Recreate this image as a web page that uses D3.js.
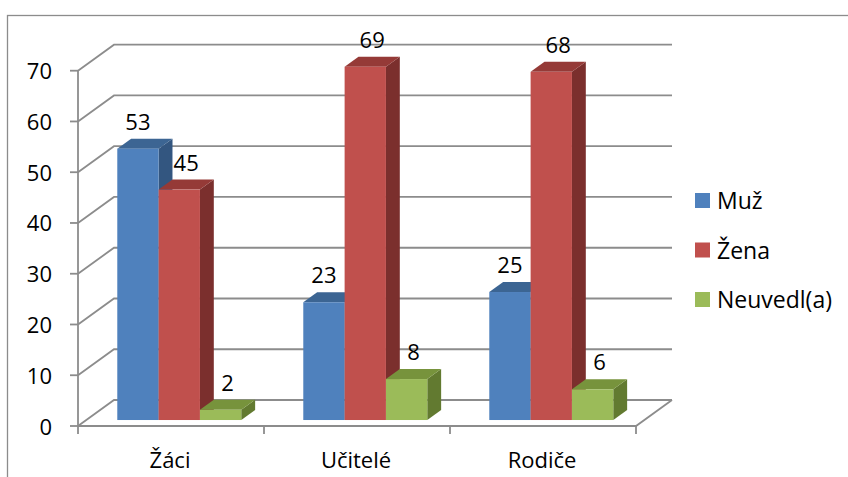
<!DOCTYPE html>
<html>
<head>
<meta charset="utf-8">
<script src="https://cdn.jsdelivr.net/npm/d3@7"></script>
<style>
  body { margin: 0; background: #fff; }
  svg { display: block; font-family: "Open Sans", sans-serif; }
</style>
</head>
<body>
<script>
var categories = ["Žáci", "Učitelé", "Rodiče"];
var seriesNames = ["Muž", "Žena", "Neuvedl(a)"];
var muz = [53, 23, 25];
var zena = [45, 69, 68];
var neuvedl = [2, 8, 6];
var yTicks = [0, 10, 20, 30, 40, 50, 60, 70];

var values = [muz, zena, neuvedl];
var colors = [
  {front: "#4f81bd", top: "#3c6593", side: "#335680"},
  {front: "#c0504d", top: "#953a37", side: "#7b2f2d"},
  {front: "#9bbb59", top: "#77933c", side: "#627a30"}
];

var w = 848, h = 477;
var left = 78, right = 636;
var DX = 36, DY = -26;      // depth of floor
var z0 = 0.23, z1 = 0.615;   // bar depth span
var grid = "#8c8c8c";

var svg = d3.select('body')
  .append('svg')
  .attr('width', w)
  .attr('height', h);

// outer frame (cut off at right/bottom)
svg.append('rect')
  .attr('x', 7.5).attr('y', 15.5)
  .attr('width', 900).attr('height', 500)
  .attr('fill', 'none')
  .attr('stroke', '#8c8c8c')
  .attr('stroke-width', 1.3);

var yScale = d3.scaleLinear()
  .domain([0, 70])
  .range([426, 70.7]);

// bars sit a bit behind the front plane, slightly larger perspective
var barY = d3.scaleLinear()
  .domain([0, 70])
  .range([426 + z0 * DY, 426 + z0 * DY - 70 * 5.12]);

var x0 = d3.scaleBand()
  .domain(categories)
  .range([left, right]);

var x1 = d3.scaleBand()
  .domain(seriesNames)
  .range([0, x0.bandwidth()])
  .paddingInner(0)
  .paddingOuter(0.75);

// walls: side diagonals + back gridlines
var g = svg.append('g').attr('stroke', grid).attr('stroke-width', 1.8).attr('fill', 'none');
yTicks.forEach(t => {
  var y = yScale(t);
  g.append('path').attr('d', `M${left},${y}L${left + DX},${y + DY}L${right + DX},${y + DY}`);
  g.append('line').attr('x1', left - 8).attr('x2', left).attr('y1', y).attr('y2', y);
});
// y axis line
g.append('line').attr('x1', left).attr('x2', left).attr('y1', yScale(70)).attr('y2', yScale(0) + 8);
// floor front + right edge
g.append('path').attr('d', `M${left},${yScale(0)}L${right},${yScale(0)}L${right + DX},${yScale(0) + DY}`);
// category ticks
categories.forEach(c => {
  var xe = x0(c) + x0.bandwidth();
  g.append('line').attr('x1', xe).attr('x2', xe).attr('y1', yScale(0)).attr('y2', yScale(0) + 8);
});

// y tick labels
svg.append('g').selectAll('text')
  .data(yTicks)
  .enter()
  .append('text')
  .attr('x', 52)
  .attr('y', d => yScale(d) + 8.5)
  .attr('text-anchor', 'end')
  .style('font-size', '22px')
  .attr('fill', '#000')
  .text(d => d);

// category labels
svg.append('g').selectAll('text')
  .data(categories)
  .enter()
  .append('text')
  .attr('x', d => x0(d) + x0.bandwidth() / 2 - 1)
  .attr('y', 468)
  .attr('text-anchor', 'middle')
  .style('font-size', '22px')
  .text(d => d);

// bars (3d boxes)
var bw = x1.bandwidth();
var ddx = (z1 - z0) * DX, ddy = (z1 - z0) * DY;
var bars = svg.append('g');
categories.forEach((c, ci) => {
  seriesNames.forEach((s, si) => {
    var v = values[si][ci];
    var xf = x0(c) + x1(s) + z0 * DX;
    var yt = barY(v);
    var yb = barY(0);
    var col = colors[si];
    // side
    bars.append('path')
      .attr('d', `M${xf + bw},${yt}L${xf + bw + ddx},${yt + ddy}L${xf + bw + ddx},${yb + ddy}L${xf + bw},${yb}Z`)
      .attr('fill', col.side);
    // top
    bars.append('path')
      .attr('d', `M${xf},${yt}L${xf + ddx},${yt + ddy}L${xf + bw + ddx},${yt + ddy}L${xf + bw},${yt}Z`)
      .attr('fill', col.top);
    // front
    bars.append('rect')
      .attr('x', xf).attr('y', yt)
      .attr('width', bw).attr('height', yb - yt)
      .attr('fill', col.front);
    // label
    bars.append('text')
      .attr('x', xf + bw / 2 + (si > 0 ? ddx / 2 : 0))
      .attr('y', yt + ddy - 9)
      .attr('text-anchor', 'middle')
      .style('font-size', '22px')
      .text(v);
  });
});

// legend
var legend = svg.append('g').attr('transform', 'translate(695, 193)');
seriesNames.forEach((s, i) => {
  legend.append('rect')
    .attr('x', 0).attr('y', i * 49.5)
    .attr('width', 15).attr('height', 15)
    .attr('fill', colors[i].front);
  legend.append('text')
    .attr('x', 22).attr('y', i * 49.5 + 16)
    .style('font-size', '23px')
    .text(s);
});
</script>
</body>
</html>
